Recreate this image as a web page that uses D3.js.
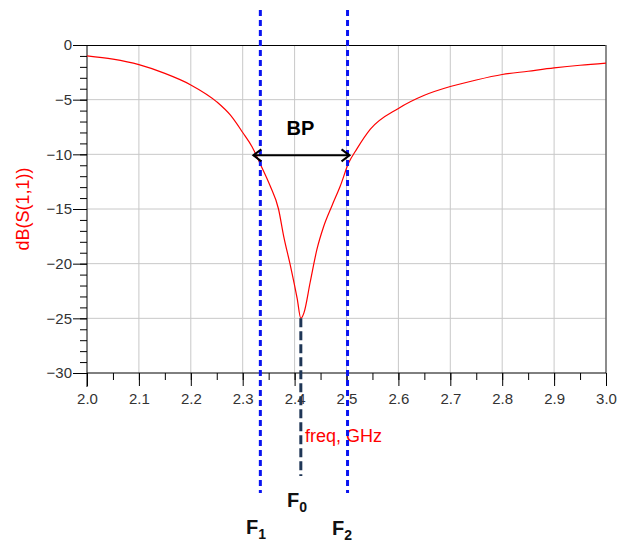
<!DOCTYPE html>
<html><head><meta charset="utf-8">
<script src="https://cdn.jsdelivr.net/npm/d3@7"></script>
<style>body{margin:0;background:#fff}svg{display:block}</style>
</head><body>
<script>
const freq = [2.0,2.05,2.1,2.15,2.2,2.25,2.276,2.3,2.318,2.334,2.353,2.369,2.379,2.392,2.405,2.412,2.418,2.43,2.443,2.456,2.472,2.488,2.504,2.52,2.546,2.6,2.65,2.7,2.75,2.8,2.85,2.9,2.95,3.0];
const s11 = [-1.0,-1.3,-1.8,-2.6,-3.65,-5.2,-6.4,-8.0,-9.3,-10.9,-12.9,-15.0,-17.5,-20.2,-23.2,-25.0,-24.5,-21.7,-18.7,-16.6,-14.7,-12.9,-10.8,-9.5,-7.7,-5.8,-4.6,-3.8,-3.2,-2.7,-2.4,-2.1,-1.85,-1.65];
const xTicks = [2.0,2.1,2.2,2.3,2.4,2.5,2.6,2.7,2.8,2.9,3.0];
const yTicks = [0,-5,-10,-15,-20,-25,-30];
const markers = {F1:2.334, F0:2.412, F2:2.502};
const bpLevel = -10.0;

const W=617,H=546;
const FONT="Liberation Sans, Arial, sans-serif";
const svg=d3.select("body").append("svg").attr("width",W).attr("height",H);
const x=d3.scaleLinear().domain([2,3]).range([87,606]);
const y=d3.scaleLinear().domain([-30,0]).range([373,45]);

// grid
svg.append("g").selectAll("line").data(xTicks.slice(1,-1)).join("line")
 .attr("x1",d=>x(d)).attr("x2",d=>x(d)).attr("y1",y(0)).attr("y2",y(-30))
 .attr("stroke","#c8c8c8").attr("stroke-width",1);
svg.append("g").selectAll("line").data(yTicks.slice(1,-1)).join("line")
 .attr("x1",x(2)).attr("x2",x(3)).attr("y1",d=>y(d)).attr("y2",d=>y(d))
 .attr("stroke","#c8c8c8").attr("stroke-width",1);
// borders
svg.append("line").attr("x1",x(2)).attr("x2",x(3)).attr("y1",y(0)+0.5).attr("y2",y(0)+0.5).attr("stroke","#000");
svg.append("line").attr("x1",x(3)).attr("x2",x(3)).attr("y1",y(0)).attr("y2",y(-30)).attr("stroke","#666").attr("stroke-width",1.5);

// axes
const yMinor=d3.range(-30,1,1);
const ya=svg.append("g").attr("transform",`translate(${x(2)},0)`);
ya.call(d3.axisLeft(y).tickValues(yMinor).tickSize(7).tickFormat(""));
ya.append("g").call(d3.axisLeft(y).tickValues(yTicks).tickSize(14).tickFormat(d3.format("d")));
ya.selectAll("path.domain").remove();
ya.append("line").attr("x1",0).attr("x2",0).attr("y1",y(0)).attr("y2",y(-30)+14).attr("stroke","#000");
ya.selectAll("text").style("font-family",FONT).style("font-size","15px").attr("fill","#333").attr("x",-15);

const xMinor=d3.range(0,21).map(i=>2+i*0.05);
const xa=svg.append("g").attr("transform",`translate(0,${y(-30)})`);
xa.call(d3.axisBottom(x).tickValues(xMinor).tickSize(7).tickFormat(""));
xa.append("g").call(d3.axisBottom(x).tickValues(xTicks).tickSize(13).tickFormat(d3.format(".1f")));
xa.selectAll("path.domain").remove();
xa.append("line").attr("x1",x(2)).attr("x2",x(3)).attr("y1",0).attr("y2",0).attr("stroke","#000");
xa.selectAll("text").style("font-family",FONT).style("font-size","15px").attr("fill","#333").attr("y",31).attr("dy",0);
xa.selectAll(".tick line").attr("stroke","#000");
ya.selectAll(".tick line").attr("stroke","#000");

// curve
svg.append("path").datum(freq.map((f,i)=>[f,s11[i]]))
 .attr("d",d3.line().x(d=>x(d[0])).y(d=>y(d[1])).curve(d3.curveMonotoneX))
 .attr("fill","none").attr("stroke","#ff0000").attr("stroke-width",1.2);

// axis titles
svg.append("text").attr("transform",`translate(29,209) rotate(-90)`).attr("text-anchor","middle")
 .style("font-family",FONT).style("font-size","18px").attr("fill","#ff0000").text("dB(S(1,1))");
svg.append("text").attr("x",305).attr("y",442)
 .style("font-family",FONT).style("font-size","18px").attr("fill","#ff0000").text("freq, GHz");

// markers
svg.append("line").attr("x1",x(markers.F1)).attr("x2",x(markers.F1)).attr("y1",10).attr("y2",493)
 .attr("stroke","#0a14f0").attr("stroke-width",3).attr("stroke-dasharray","6,4");
svg.append("line").attr("x1",x(markers.F2)).attr("x2",x(markers.F2)).attr("y1",10).attr("y2",493)
 .attr("stroke","#0a14f0").attr("stroke-width",3).attr("stroke-dasharray","6,4");
svg.append("line").attr("x1",x(markers.F0)).attr("x2",x(markers.F0)).attr("y1",y(-25.0)).attr("y2",476)
 .attr("stroke","#1f3656").attr("stroke-width",3).attr("stroke-dasharray","9,4");

// BP arrow
const ay=y(bpLevel)+1, ax1=x(markers.F1)-7, ax2=x(markers.F2)+2;
svg.append("line").attr("x1",ax1).attr("x2",ax2).attr("y1",ay).attr("y2",ay).attr("stroke","#000").attr("stroke-width",2);
svg.append("path").attr("d",`M${ax1+8},${ay-6}L${ax1},${ay}L${ax1+8},${ay+6}`).attr("fill","none").attr("stroke","#000").attr("stroke-width",2);
svg.append("path").attr("d",`M${ax2-8},${ay-6}L${ax2},${ay}L${ax2-8},${ay+6}`).attr("fill","none").attr("stroke","#000").attr("stroke-width",2);
svg.append("text").attr("x",(ax1+ax2)/2-1).attr("y",135).attr("text-anchor","middle")
 .style("font-family",FONT).attr("font-weight","bold").style("font-size","20px").attr("fill","#000").text("BP");

function flabel(px,py,sub){
  const t=svg.append("text").attr("x",px).attr("y",py)
   .style("font-family",FONT).attr("font-weight","bold").style("font-size","20px").attr("fill","#111");
  t.append("tspan").text("F");
  t.append("tspan").style("font-size","14px").attr("dy",5).text(sub);
}
flabel(287,507,"0");
flabel(246,534,"1");
flabel(332,535,"2");
</script>
</body></html>
